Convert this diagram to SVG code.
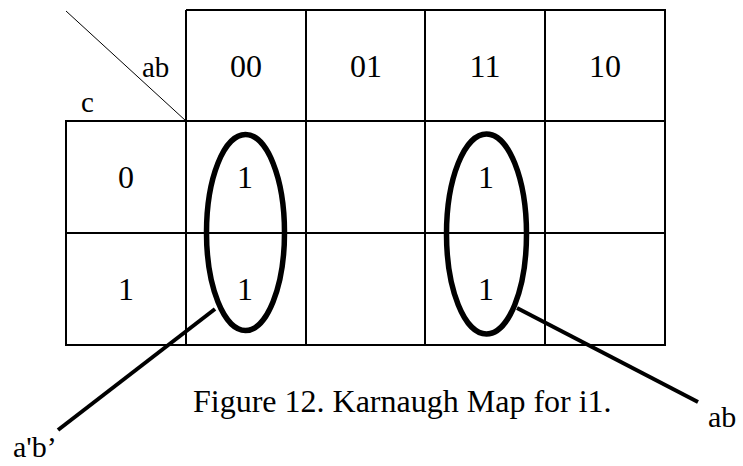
<svg xmlns="http://www.w3.org/2000/svg" width="743" height="466" viewBox="0 0 743 466">
<style>
text{font-family:'Liberation Serif','DejaVu Serif',serif;fill:#000}
.c{text-anchor:middle;font-size:32px}
.g{stroke:#000;stroke-width:2;fill:none}
.loop{stroke:#000;stroke-width:5.5;fill:none}
.lead{stroke:#000;stroke-width:4;fill:none}
</style>
<rect width="743" height="466" fill="#fff"/>
<g id="grid">
<path class="g" d="M186,10H665V345H66V121H665M186,233H665M66,233H186M186,10V345M306,10V345M425,10V345M545,10V345M665,10V345"/>
<line x1="66" y1="11" x2="186" y2="121" stroke="#000" stroke-width="1"/>
<text x="142" y="77" font-size="29">ab</text>
<text x="81" y="112" font-size="29">c</text>
</g>
<g id="header">
<text class="c" x="246" y="77">00</text>
<text class="c" x="366" y="77">01</text>
<text class="c" x="485" y="77">11</text>
<text class="c" x="605" y="77">10</text>
<text class="c" x="126" y="188">0</text>
<text class="c" x="126" y="300">1</text>
</g>
<g id="cells">
<text class="c" x="245" y="188">1</text>
<text class="c" x="245" y="300">1</text>
<text class="c" x="486" y="188">1</text>
<text class="c" x="486" y="300">1</text>
</g>
<g id="loop-ab-prime">
<ellipse class="loop" cx="245.5" cy="232.5" rx="39" ry="98"/>
</g>
<g id="loop-ab">
<ellipse class="loop" cx="486.5" cy="234" rx="40" ry="100"/>
</g>
<g id="connectors">
<line class="lead" x1="215" y1="309" x2="58" y2="430"/>
<line class="lead" x1="517" y1="308" x2="698" y2="402"/>
</g>
<g id="labels">
<text x="13" y="457" font-size="30">a'b’</text>
<text x="708" y="427" font-size="30">ab</text>
<text x="193" y="412" font-size="32">Figure 12. Karnaugh Map for i1.</text>
</g>
</svg>
